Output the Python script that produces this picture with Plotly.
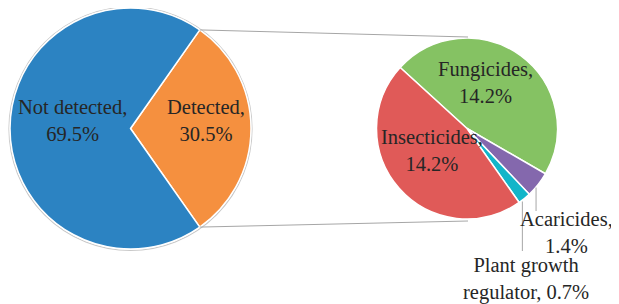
import math
import plotly.graph_objects as go

# ---- data ----
main_labels = ["Detected", "Not detected"]
main_values = [30.5, 69.5]
main_colors = ["#F5903F", "#2C83C2"]

sub_labels = ["Fungicides", "Acaricides", "Plant growth regulator", "Insecticides"]
sub_values = [14.2, 1.4, 0.7, 14.2]
sub_colors = ["#85C263", "#8468AD", "#12B5C9", "#E05A58"]

# ---- layout geometry (screen pixels) ----
SW, SH = 619, 304
OFF = 8                      # default page margin around the plot div
W, H = SW - OFF, SH - OFF    # figure size
L_CX, L_CY, L_R = 130.5, 128.5, 120.5
R_CX, R_CY, R_R = 467.0, 128.5, 90.5
L_ROT = 90 - main_values[0] / sum(main_values) * 180   # Detected centred on 3 o'clock
R_ROT = -47.6

FONT = "Liberation Serif"
TXT = "#262626"
GRAY = "#A6A6A6"


def px(x):
    return (x - OFF) / W


def py(y):
    return 1 - (y - OFF) / H


def pt(cx, cy, r, ang):
    a = math.radians(ang)
    return cx + r * math.sin(a), cy - r * math.cos(a)


def clamp(v):
    return min(1.0, max(0.0, v))


fig = go.Figure()
fig.add_trace(go.Pie(
    labels=main_labels, values=main_values, sort=False, direction="clockwise",
    rotation=L_ROT, marker=dict(colors=main_colors, line=dict(color="white", width=1.5)),
    textinfo="none", hoverinfo="label+percent",
    domain=dict(x=[clamp(px(L_CX - L_R)), clamp(px(L_CX + L_R))],
                y=[clamp(py(L_CY + L_R)), clamp(py(L_CY - L_R))]),
))
fig.add_trace(go.Pie(
    labels=sub_labels, values=sub_values, sort=False, direction="clockwise",
    rotation=R_ROT, marker=dict(colors=sub_colors, line=dict(color="white", width=1.5)),
    textinfo="none", hoverinfo="label+value",
    domain=dict(x=[px(R_CX - R_R), px(R_CX + R_R)], y=[py(R_CY + R_R), py(R_CY - R_R)]),
))

shapes = []
# faint outline round the main pie
shapes.append(dict(type="circle", xref="paper", yref="paper", layer="below",
                   x0=px(L_CX - L_R - 1), x1=px(L_CX + L_R + 1),
                   y0=py(L_CY + L_R + 1.5), y1=py(L_CY - L_R - 1),
                   line=dict(color="#C8C8C8", width=1.2)))
# connectors between pies, from Detected slice edges
tot = sum(main_values)
a0 = L_ROT
a1 = L_ROT + main_values[0] / tot * 360
for ang, ry in [(a0, R_CY - R_R - 1), (a1, R_CY + R_R + 2)]:
    x0, y0 = pt(L_CX, L_CY, L_R, ang)
    shapes.append(dict(type="line", xref="paper", yref="paper",
                       x0=px(x0), y0=py(y0), x1=px(R_CX + 1), y1=py(ry),
                       line=dict(color=GRAY, width=1)))

# leader lines for small slices
stot = sum(sub_values)
cum = R_ROT
mids = []
for v in sub_values:
    mids.append(cum + v / stot * 180)
    cum += v / stot * 360
leader_ends = {1: 211, 2: 251}
for i, yend in leader_ends.items():
    x0, y0 = pt(R_CX, R_CY, R_R, mids[i])
    x0 -= 2
    shapes.append(dict(type="line", xref="paper", yref="paper",
                       x0=px(x0), y0=py(y0 + 3), x1=px(x0), y1=py(yend),
                       line=dict(color=GRAY, width=1)))

annos = []
main_pos = [(206, 120.5), (72, 120.5)]
for lab, v, (x, y) in zip(main_labels, main_values, main_pos):
    annos.append(dict(x=px(x), y=py(y), text=f"{lab},<br>{v}%"))
sub_pos = [(485, 82.5), (566, 232), (526, 279), (432, 150)]
for lab, v, (x, y) in zip(sub_labels, sub_values, sub_pos):
    if lab == "Plant growth regulator":
        t = f"Plant growth<br>regulator, {v}%"
    else:
        t = f"{lab},<br>{v}%"
    annos.append(dict(x=px(x), y=py(y), text=t))
for a in annos:
    a.update(xref="paper", yref="paper", xanchor="center", yanchor="middle",
             showarrow=False, align="center", font=dict(family=FONT, size=20.5, color=TXT))

fig.update_layout(
    width=W, height=H, margin=dict(l=0, r=0, t=0, b=0),
    paper_bgcolor="white", plot_bgcolor="white", showlegend=False,
    shapes=shapes, annotations=annos,
)
fig.write_html("out.html")
